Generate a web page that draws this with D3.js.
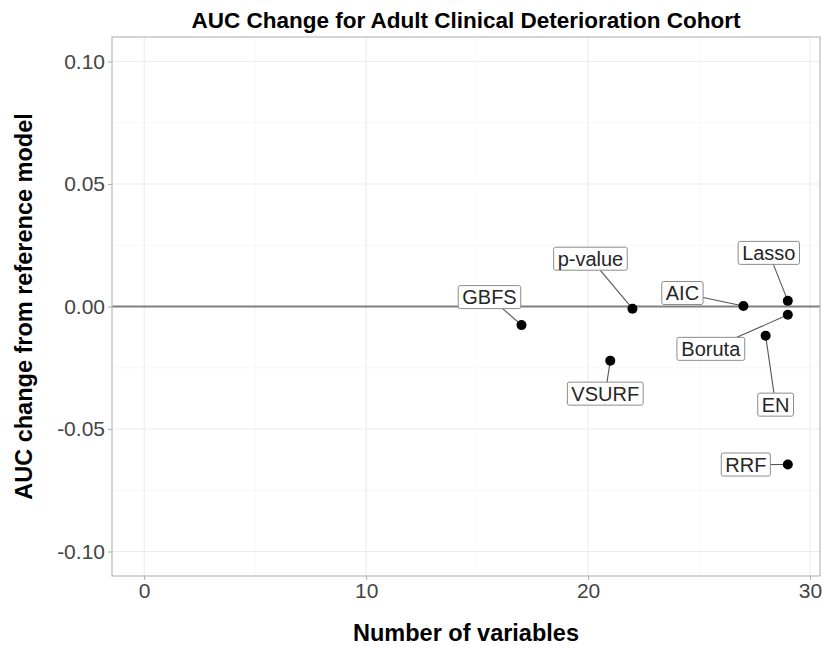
<!DOCTYPE html>
<html>
<head>
<meta charset="utf-8">
<script src="https://cdn.jsdelivr.net/npm/d3@7"></script>
<style>
  body { margin: 0; background: #fff; }
  text { font-family: "Liberation Sans", Arial, Helvetica, sans-serif; }
</style>
</head>
<body>
<script>
// data
var methods   = ["GBFS", "p-value", "VSURF", "AIC", "Lasso", "Boruta", "EN", "RRF"];
var nVars     = [17, 22, 21, 27, 29, 29, 28, 29];
var aucChange = [-0.0076, -0.0009, -0.0221, 0.0002, 0.0023, -0.0034, -0.0119, -0.0645];
var xTicks    = [0, 10, 20, 30];
var yTicks    = [-0.10, -0.05, 0.00, 0.05, 0.10];

// where ggrepel put each label (pixel offset of box centre from its point)
var labelOffset = {
  "GBFS":    [-32, -28],
  "p-value": [-42, -50],
  "VSURF":   [-5, 33],
  "AIC":     [-61, -13],
  "Lasso":   [-19, -48],
  "Boruta":  [-77, 34],
  "EN":      [10, 69],
  "RRF":     [-42, 0]
};

var width = 822, height = 650;
var panel = {left: 112, right: 820, top: 37, bottom: 576};

var x = d3.scaleLinear()
          .domain([-1.45, 30.45])
          .range([panel.left, panel.right]);
var y = d3.scaleLinear()
          .domain([-0.11, 0.11])
          .range([panel.bottom, panel.top]);

var svg = d3.select("body")
            .append("svg")
            .attr("width", width)
            .attr("height", height);

// minor + major grid
var g = svg.append("g");
g.selectAll("line.xminor")
  .data([5, 15, 25])
  .enter().append("line")
  .attr("x1", function(d) { return x(d); })
  .attr("x2", function(d) { return x(d); })
  .attr("y1", panel.top).attr("y2", panel.bottom)
  .attr("stroke", "#f2f2f2").attr("stroke-width", 0.6);
g.selectAll("line.yminor")
  .data([-0.075, -0.025, 0.025, 0.075])
  .enter().append("line")
  .attr("y1", function(d) { return y(d); })
  .attr("y2", function(d) { return y(d); })
  .attr("x1", panel.left).attr("x2", panel.right)
  .attr("stroke", "#f2f2f2").attr("stroke-width", 0.6);
g.selectAll("line.xmajor")
  .data(xTicks)
  .enter().append("line")
  .attr("x1", function(d) { return x(d); })
  .attr("x2", function(d) { return x(d); })
  .attr("y1", panel.top).attr("y2", panel.bottom)
  .attr("stroke", "#ebebeb").attr("stroke-width", 1.1);
g.selectAll("line.ymajor")
  .data(yTicks)
  .enter().append("line")
  .attr("y1", function(d) { return y(d); })
  .attr("y2", function(d) { return y(d); })
  .attr("x1", panel.left).attr("x2", panel.right)
  .attr("stroke", "#ebebeb").attr("stroke-width", 1.1);

// reference line at zero
svg.append("line")
   .attr("x1", panel.left).attr("x2", panel.right)
   .attr("y1", y(0)).attr("y2", y(0))
   .attr("stroke", "#7f7f7f")
   .attr("stroke-width", 1.8);

// panel border
svg.append("rect")
   .attr("x", panel.left).attr("y", panel.top)
   .attr("width", panel.right - panel.left)
   .attr("height", panel.bottom - panel.top)
   .attr("fill", "none")
   .attr("stroke", "#b3b3b3")
   .attr("stroke-width", 1.1);

// axes (plain hyphen for negatives, like R)
var fmt2 = d3.format(".2f");
var xAxis = d3.axisBottom(x).tickValues(xTicks).tickSize(4).tickPadding(3)
              .tickFormat(d3.format("d"));
var yAxis = d3.axisLeft(y).tickValues(yTicks).tickSize(4).tickPadding(3)
              .tickFormat(function(d) { return fmt2(d).replace("\u2212", "-"); });

var gx = svg.append("g")
            .attr("transform", "translate(0," + panel.bottom + ")")
            .call(xAxis);
var gy = svg.append("g")
            .attr("transform", "translate(" + panel.left + ",0)")
            .call(yAxis);
[gx, gy].forEach(function(a) {
  a.select(".domain").remove();
  a.selectAll(".tick line").attr("stroke", "#b3b3b3").attr("stroke-width", 1.1);
  a.selectAll(".tick text")
   .attr("fill", "#444")
   .style("font-size", "21px");
});

// titles
svg.append("text")
   .attr("x", (panel.left + panel.right) / 2)
   .attr("y", 28)
   .attr("text-anchor", "middle")
   .style("font-size", "22.5px")
   .style("font-weight", "bold")
   .text("AUC Change for Adult Clinical Deterioration Cohort");

svg.append("text")
   .attr("x", (panel.left + panel.right) / 2)
   .attr("y", 641)
   .attr("text-anchor", "middle")
   .style("font-size", "23.5px")
   .style("font-weight", "bold")
   .text("Number of variables");

svg.append("text")
   .attr("transform", "translate(32," + ((panel.top + panel.bottom) / 2) + ") rotate(-90)")
   .attr("text-anchor", "middle")
   .style("font-size", "23.5px")
   .style("font-weight", "bold")
   .text("AUC change from reference model");

// points + repelled labels
var points = methods.map(function(m, i) {
  return {name: m, n: nVars[i], auc: aucChange[i]};
});

var labels = svg.append("g");
points.forEach(function(d) {
  var px = x(d.n), py = y(d.auc);
  var off = labelOffset[d.name];
  var cx = px + off[0], cy = py + off[1];

  var lg = labels.append("g");
  var seg = lg.append("line");
  var rect = lg.append("rect");
  var t = lg.append("text")
            .attr("x", cx).attr("y", cy)
            .attr("text-anchor", "middle")
            .attr("dy", "0.36em")
            .attr("fill", "#262626")
            .style("font-size", "20px")
            .text(d.name);
  var bb = t.node().getBBox();
  var w = bb.width + 8, h = 23;
  rect.attr("x", cx - w / 2).attr("y", cy - h / 2)
      .attr("width", w).attr("height", h)
      .attr("rx", 2).attr("ry", 2)
      .attr("fill", "#fff")
      .attr("stroke", "#8c8c8c")
      .attr("stroke-width", 1);

  // segment from point to box edge
  var dx = px - cx, dy = py - cy;
  var s = Math.min(dx === 0 ? Infinity : (w / 2) / Math.abs(dx),
                   dy === 0 ? Infinity : (h / 2) / Math.abs(dy));
  if (s < 1) {
    seg.attr("x1", cx + dx * s).attr("y1", cy + dy * s)
       .attr("x2", px).attr("y2", py)
       .attr("stroke", "#555")
       .attr("stroke-width", 1.1);
  }
});

svg.append("g")
   .selectAll("circle")
   .data(points)
   .enter()
   .append("circle")
   .attr("cx", function(d) { return x(d.n); })
   .attr("cy", function(d) { return y(d.auc); })
   .attr("r", 5)
   .attr("fill", "#000");
</script>
</body>
</html>
